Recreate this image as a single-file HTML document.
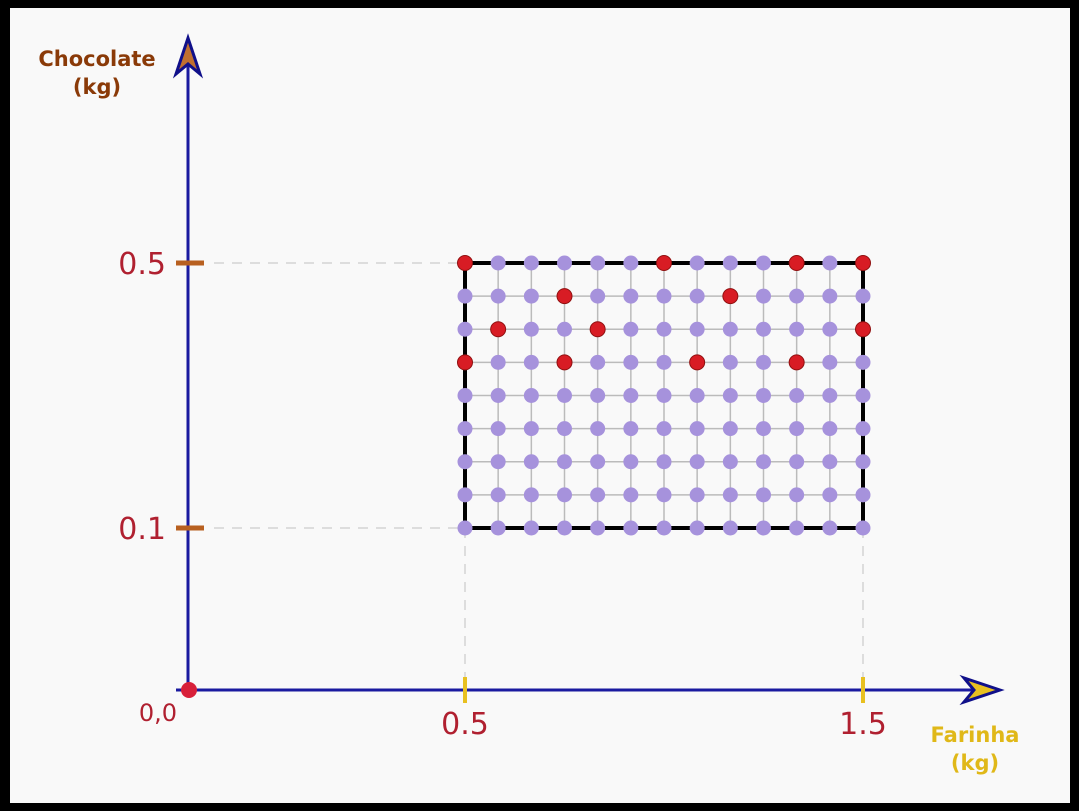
<!DOCTYPE html>
<html><head><meta charset="utf-8"><style>
html,body{margin:0;padding:0;background:#000;}
svg{display:block;}
text{font-family:"DejaVu Sans","Liberation Sans",sans-serif;}
</style></head><body>
<svg id="chart" width="1079" height="811">
<rect x="10" y="8" width="1060" height="795" fill="#f9f9f9"/>
<g id="dashes"></g>
<g id="grid"></g>
<rect id="region" fill="none" stroke="#000" stroke-width="4"/>
<g id="dots"></g>
<line x1="188" y1="690" x2="188" y2="50" stroke="#1a1aa0" stroke-width="3"/>
<path d="M188,38 L200,74 L188,64 L176,74 Z" fill="#c07030" stroke="#10108a" stroke-width="3"/>
<line x1="176" y1="690" x2="985" y2="690" stroke="#1a1aa0" stroke-width="3"/>
<path d="M1000,690 L964,678 L974,690 L964,702 Z" fill="#e8c020" stroke="#10108a" stroke-width="3"/>
<g id="ticks"></g>
<circle cx="189" cy="690" r="8" fill="#d8203a"/>
<text x="158" y="721" font-size="24" fill="#b02030" text-anchor="middle">0,0</text>
<text x="97" y="66" font-size="21" font-weight="bold" fill="#8a3a08" text-anchor="middle">Chocolate</text>
<text x="97" y="94" font-size="21" font-weight="bold" fill="#8a3a08" text-anchor="middle">(kg)</text>
<text x="975" y="742" font-size="21" font-weight="bold" fill="#e0b818" text-anchor="middle">Farinha</text>
<text x="975" y="770" font-size="21" font-weight="bold" fill="#e0b818" text-anchor="middle">(kg)</text>
</svg>
<script>
const xTicks=[0.5,1.5];
const yTicks=[0.1,0.5];
const xTickLabels=["0.5","1.5"];
const yTickLabels=["0.1","0.5"];
const xGrid=[0.5,0.5833,0.6667,0.75,0.8333,0.9167,1.0,1.0833,1.1667,1.25,1.3333,1.4167,1.5];
const yGrid=[0.1,0.15,0.2,0.25,0.3,0.35,0.4,0.45,0.5];
const redX=[0.5,1.0,1.3333,1.5,0.75,1.1667,0.5833,0.8333,1.5,0.5,0.75,1.0833,1.3333];
const redY=[0.5,0.5,0.5,0.5,0.45,0.45,0.4,0.4,0.4,0.35,0.35,0.35,0.35];
const sx=v=>465+(v-0.5)*398;
const sy=v=>528-(v-0.1)*(265/0.4);
const NS="http://www.w3.org/2000/svg";
function mk(t,a,p){const e=document.createElementNS(NS,t);for(const k in a)e.setAttribute(k,a[k]);p.appendChild(e);return e;}
const dashes=document.getElementById('dashes'),grid=document.getElementById('grid'),dots=document.getElementById('dots'),ticks=document.getElementById('ticks');
xTicks.forEach((v,i)=>{
 let l=mk('line',{x1:sx(v),x2:sx(v),y1:sy(0.1),y2:680,stroke:'#d4d4d4','stroke-width':1.5,'stroke-dasharray':'10,8'},dashes);
 
 
 let t=mk('line',{x1:sx(v),x2:sx(v),y1:677,y2:703,stroke:'#e8c020','stroke-width':4},ticks);
 
 
 let tx=mk('text',{x:sx(v),y:734,'font-size':30,fill:'#b02030','text-anchor':'middle'},ticks);
 tx.textContent=xTickLabels[i];
 
 
});
yTicks.forEach((v,i)=>{
 let l=mk('line',{x1:214,x2:sx(0.5),y1:sy(v),y2:sy(v),stroke:'#d4d4d4','stroke-width':1.5,'stroke-dasharray':'10,8'},dashes);
 
 
 let t=mk('line',{x1:176,x2:204,y1:sy(v),y2:sy(v),stroke:'#b86020','stroke-width':5},ticks);
 
 
 let tx=mk('text',{x:166,y:sy(v)+11,'font-size':30,fill:'#b02030','text-anchor':'end'},ticks);
 tx.textContent=yTickLabels[i];
 
 
});
xGrid.forEach(v=>{let l=mk('line',{x1:sx(v),x2:sx(v),y1:sy(yGrid[0]),y2:sy(yGrid[yGrid.length-1]),stroke:'#bbb','stroke-width':1.5},grid);
 
 });
yGrid.forEach(v=>{let l=mk('line',{x1:sx(xGrid[0]),x2:sx(xGrid[xGrid.length-1]),y1:sy(v),y2:sy(v),stroke:'#bbb','stroke-width':1.5},grid);
 
 });
const r=document.getElementById('region');
r.setAttribute('x',sx(xGrid[0]));r.setAttribute('y',sy(yGrid[yGrid.length-1]));
r.setAttribute('width',sx(xGrid[xGrid.length-1])-sx(xGrid[0]));r.setAttribute('height',sy(yGrid[0])-sy(yGrid[yGrid.length-1]));
const isRed=(x,y)=>redX.some((rx,i)=>Math.abs(rx-x)<0.01&&Math.abs(redY[i]-y)<0.01);
yGrid.forEach(y=>xGrid.forEach(x=>{
 if(isRed(x,y))return;
 let c=mk('circle',{cx:sx(x),cy:sy(y),r:7.5,fill:'#a692dc'},dots);
 
 
}));
redX.forEach((x,i)=>{
 let c=mk('circle',{cx:sx(x),cy:sy(redY[i]),r:7.5,fill:'#d81c24',stroke:'#901010','stroke-width':1},dots);
 
 
});
</script>
</body></html>
